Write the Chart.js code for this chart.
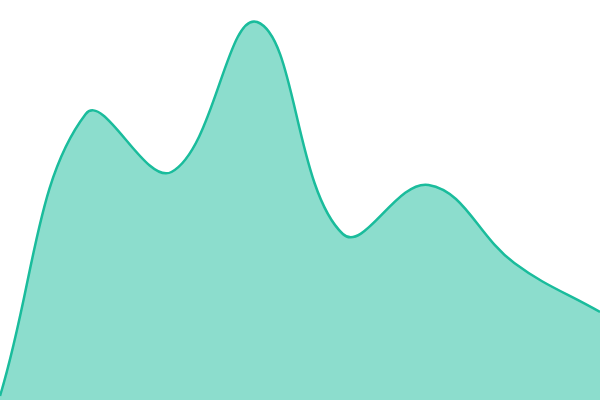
<!DOCTYPE html>
<html>
<head>
<meta charset="utf-8">
<style>
  html, body { margin: 0; padding: 0; background: #fff; }
  #wrap { width: 600px; height: 400px; }
</style>
<script src="https://cdn.jsdelivr.net/npm/chart.js@4.4.0/dist/chart.umd.min.js"></script>
</head>
<body>
<div id="wrap"><canvas id="areaChart"></canvas></div>
<script>
// data
const labels = ['1', '2', '3', '4', '5', '6', '7', '8'];
const values = [4, 286, 228, 378, 166, 215, 137, 88];
const yMin = 0;
const yMax = 400;

new Chart(document.getElementById('areaChart'), {
    type: 'line',
    data: {
        labels: labels,
        datasets: [{
            data: values,
            borderColor: '#1abc9c',
            backgroundColor: 'rgba(26, 188, 156, 0.5)',
            borderWidth: 2.5,
            fill: 'origin',
            tension: 0.4,
            pointRadius: 0
        }]
    },
    options: {
        responsive: true,
        maintainAspectRatio: false,
        animation: false,
        layout: { padding: 0 },
        plugins: {
            legend: { display: false },
            tooltip: { enabled: false }
        },
        scales: {
            x: { display: false },
            y: { display: false, min: yMin, max: yMax }
        }
    }
});
</script>
</body>
</html>
